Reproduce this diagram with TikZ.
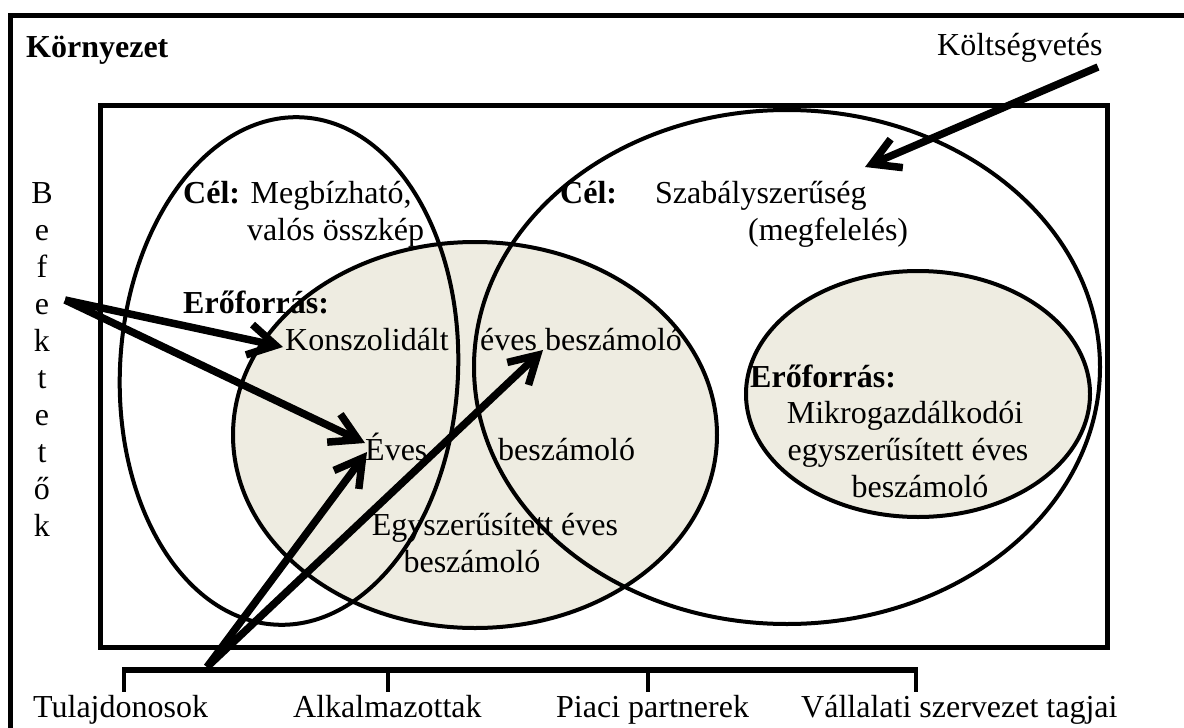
\documentclass[tikz,border=0pt]{standalone}
\usepackage{fontspec}
\setmainfont{Liberation Serif}
\usepackage{xcolor}
\usetikzlibrary{arrows.meta}
\definecolor{paleback}{HTML}{EEECE1}
\tikzset{
  bigarrow/.style={line width=7.5pt, -{Straight Barb[length=27pt,width=31pt]}},
  ring/.style={line width=4pt},
  lbl/.style={inner sep=0pt, anchor=base west},
  lblc/.style={inner sep=0pt, anchor=base},
}

\begin{document}
\begin{tikzpicture}[x=1pt,y=-1pt,font=\fontsize{32}{37}\selectfont]
      \useasboundingbox (0,0) rectangle (1184,728);
      \begin{scope}
        \clip (0,0) rectangle (1184,728);
        \draw [line width=5pt] (10,15) rectangle (1210,760);
      \end{scope}
      \draw [line width=5pt] (100,105) rectangle (1107,647);
      \fill [paleback] (475,435) ellipse [x radius=242, y radius=193];
      \fill [paleback] (918,394) ellipse [x radius=172, y radius=123];
      \draw [ring] (475,435) ellipse [x radius=242, y radius=193];
      \draw [ring] (918,394) ellipse [x radius=172, y radius=123];
      \draw [ring, rotate around={-3:(289,371)}] (289,371) ellipse [x radius=169, y radius=254];
      \draw [ring] (787,367) ellipse [x radius=313, y radius=257];

      \node [lbl] (env) at (26,57) {\textbf{Környezet}};
      \node [lbl] (budget) at (937,55) {Költségvetés};
      \foreach \l [count=\i from 0] in {B,e,f,e,k,t,e,t,ő,k}
        \node [lblc] (bef\i) at (42,203+37*\i) {\l};

      \node [lbl] (goalL) at (183,203) {\textbf{Cél:} Megbízható,};
      \node [lbl] (goalLb) at (247,240) {valós összkép};
      \node [lbl] (goalR) at (560,203) {\textbf{Cél:}};
      \node [lbl] (goalRtxt) at (655,203) {Szabályszerűség};
      \node [lbl] (goalRb) at (748,240) {(megfelelés)};

      \node [lbl] (resL) at (183,313) {\textbf{Erőforrás:}};
      \node [lbl] (konsz) at (285,350) {Konszolidált};
      \node [lbl] (evesb) at (480,350) {éves beszámoló};
      \node [lbl] (eves) at (365,460) {Éves};
      \node [lbl] (evesbb) at (498,460) {beszámoló};
      \node [lblc] (egysz) at (495,535) {Egyszerűsített éves};
      \node [lblc] (egyszb) at (472,572) {beszámoló};

      \node [lbl] (resR) at (750,387) {\textbf{Erőforrás:}};
      \node [lblc] (mikro1) at (905,423) {Mikrogazdálkodói};
      \node [lblc] (mikro2) at (908,460) {egyszerűsített éves};
      \node [lblc] (mikro3) at (920,497) {beszámoló};

      \node [lbl] (own) at (33,717) {Tulajdonosok};
      \node [lbl] (emp) at (293,717) {Alkalmazottak};
      \node [lbl] (mkt) at (556,717) {Piaci partnerek};
      \node [lbl] (org) at (801,717) {Vállalati szervezet tagjai};

      \draw [line width=6pt] (122,670) -- (918,670);
      \draw [line width=4pt] (124,670) -- (124,692);
      \draw [line width=4pt] (388,670) -- (388,692);
      \draw [line width=4pt] (648,670) -- (648,692);
      \draw [line width=4pt] (916,670) -- (916,692);

      \coordinate (befsrc) at (65,300);
      \coordinate (ownsrc) at (207,667);
      \coordinate (budsrc) at (1098,67);
      \coordinate (budtip) at (865,167);
      \draw [bigarrow] (befsrc) -- ([shift={(-2,-3)}]konsz.base west);
      \draw [bigarrow] (befsrc) -- ([shift={(0,-17)}]eves.base west);
      \draw [bigarrow] (ownsrc) -- ([shift={(2,-8)}]eves.base west);
      \draw [bigarrow] (ownsrc) -- ([shift={(63,0)}]evesb.base west);
      \draw [bigarrow] (budsrc) -- (budtip);
    \end{tikzpicture}
\end{document}
